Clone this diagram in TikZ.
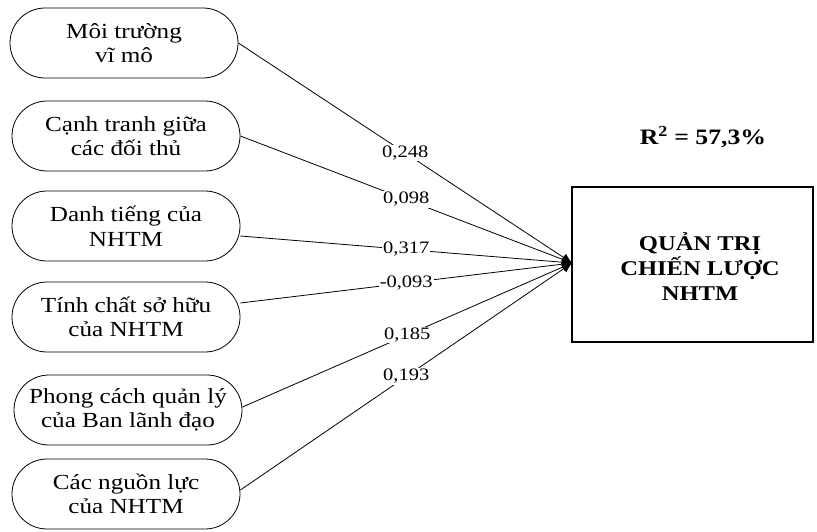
\documentclass[tikz,border=0pt]{standalone}
\usepackage{fontspec}
\setmainfont{Liberation Serif}[FakeStretch=1.17]
\usepackage{tikz}
\usetikzlibrary{arrows.meta}
\usetikzlibrary{shapes.misc}

\tikzset{
	factor/.style={draw, line width=.8pt, rounded rectangle, minimum width=228pt, minimum height=70pt, inner sep=0pt, align=center, font=\fontsize{21.5}{24.5}\selectfont},
	coef/.style={fill=white, inner sep=1pt, font=\fontsize{17.5}{17.5}\selectfont},
	path/.style={line width=.8pt, -{Latex[length=10pt, width=9pt]}},
}

\begin{document}
\begin{tikzpicture}[x=1pt, y=-1pt]
	\useasboundingbox (0,0) rectangle (817,531);
	
	% the six factors on the left
	\node[factor] (moitruong) at (124,43) {Môi trường\\vĩ mô};
	\node[factor] (canhtranh) at (126,136) {Cạnh tranh giữa\\các đối thủ};
	\node[factor] (danhtieng) at (126,226) {Danh tiếng của\\NHTM};
	\node[factor] (sohuu) at (126,317) {Tính chất sở hữu\\của NHTM};
	\node[factor] (lanhdao) at (128,410) {Phong cách quản lý\\của Ban lãnh đạo};
	\node[factor] (nguonluc) at (126,494) {Các nguồn lực\\của NHTM};
	
	% dependent box
	\draw[line width=1.2pt] (572,187) rectangle (813,342);
	\coordinate (tip) at (572,263);
	\node[align=center, font=\bfseries\fontsize{21}{25}\selectfont] (qtcl) at (700,267) {QUẢN TRỊ\\CHIẾN LƯỢC\\NHTM};
	\node[font=\bfseries\fontsize{22}{22}\selectfont] (rsq) at (703,137) {R\textsuperscript{2} = 57,3\%};
	
	% paths with coefficients
	\draw[path] (moitruong.east) -- node[coef, pos=.5] {0,248} (tip);
	\draw[path] (canhtranh.east) -- node[coef, pos=.5] {0,098} (tip);
	\draw[path] ([yshift=-10pt]danhtieng.east) -- node[coef, pos=.5] {0,317} (tip);
	\draw[path] ([yshift=14pt]sohuu.east) -- node[coef, pos=.5] {-0,093} (tip);
	\draw[path] ([yshift=3pt]lanhdao.east) -- node[coef, pos=.5] {0,185} (tip);
	\draw[path] ([yshift=4pt]nguonluc.east) -- node[coef, pos=.5] {0,193} (tip);
\end{tikzpicture}
\end{document}
